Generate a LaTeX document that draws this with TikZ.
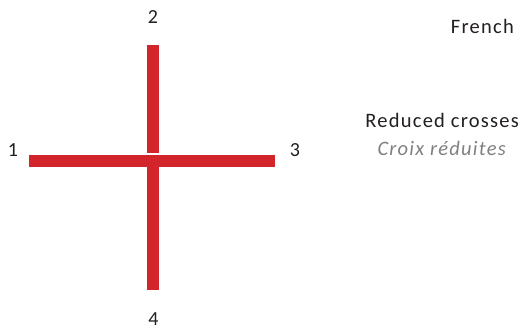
\documentclass[tikz,border=0pt]{standalone}
\usepackage{fontspec}
\setmainfont{Carlito}
\newfontfamily\spaced[LetterSpace=6]{Carlito}
\definecolor{crossred}{HTML}{D3242C}
\definecolor{txt}{HTML}{231F20}
\definecolor{greytxt}{HTML}{808080}
\begin{document}
\begin{tikzpicture}[x=1pt,y=1pt,
  bar/.style={fill=crossred,draw=none},
  lbl/.style={font=\fontsize{20}{24}\selectfont,text=txt,inner sep=0pt},
  side/.style={font=\spaced\fontsize{20.5}{24}\selectfont,text=txt,inner sep=0pt,anchor=base east}]
\useasboundingbox (0,0) rectangle (520,331);
\fill[bar] (147,286) rectangle (159,178);
\fill[bar] (29,176) rectangle (275,164);
\fill[bar] (147,164) rectangle (159,41);
\node[lbl] (n2) at (153,314) {2};
\node[lbl] (n1) at (13,181) {1};
\node[lbl] (n3) at (295,181) {3};
\node[lbl] (n4) at (153.5,11.5) {4};
\node[side] (fr) at (514,297) {French};
\node[side] (rc) at (519,203) {Reduced crosses};
\node[side,text=greytxt,font=\spaced\fontsize{20.5}{24}\selectfont\itshape] (cr) at (506,175) {Croix réduites};
\end{tikzpicture}
\end{document}
